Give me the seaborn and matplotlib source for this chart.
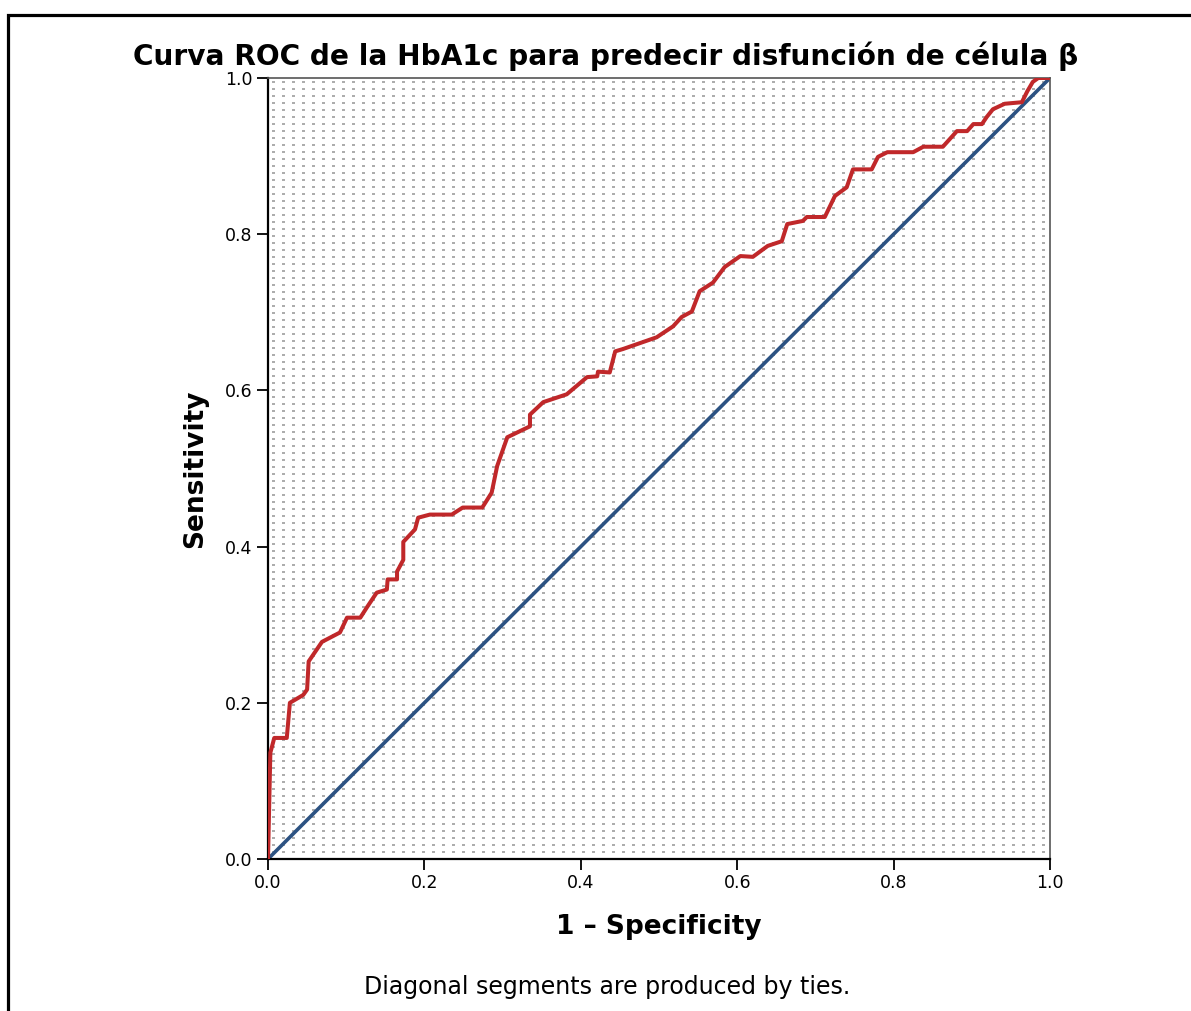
import numpy as np
import pandas as pd
import matplotlib
matplotlib.use('Agg')
import matplotlib.pyplot as plt
import matplotlib.patches as mpatches
import seaborn as sns

# ROC curve points (1 - specificity, sensitivity)
fpr = [0.000, 0.003, 0.008, 0.024, 0.028, 0.045, 0.050, 0.052, 0.069, 0.092,
       0.101, 0.118, 0.127, 0.139, 0.152, 0.153, 0.165, 0.165, 0.173, 0.173,
       0.188, 0.192, 0.207, 0.235, 0.249, 0.274, 0.286, 0.293, 0.306, 0.335,
       0.335, 0.352, 0.382, 0.408, 0.421, 0.422, 0.437, 0.444, 0.454, 0.497,
       0.518, 0.529, 0.542, 0.552, 0.569, 0.584, 0.604, 0.620, 0.639, 0.657,
       0.664, 0.684, 0.689, 0.712, 0.725, 0.740, 0.748, 0.772, 0.780, 0.792,
       0.825, 0.838, 0.863, 0.881, 0.894, 0.902, 0.913, 0.919, 0.927, 0.942,
       0.964, 0.971, 0.978, 0.985, 1.000]
tpr = [0.000, 0.136, 0.155, 0.155, 0.200, 0.210, 0.217, 0.253, 0.278, 0.290,
       0.309, 0.309, 0.323, 0.341, 0.345, 0.358, 0.358, 0.368, 0.383, 0.406,
       0.422, 0.437, 0.441, 0.441, 0.450, 0.450, 0.469, 0.503, 0.540, 0.554,
       0.569, 0.585, 0.595, 0.617, 0.618, 0.624, 0.623, 0.650, 0.653, 0.668,
       0.682, 0.694, 0.701, 0.727, 0.738, 0.758, 0.772, 0.771, 0.785, 0.791,
       0.813, 0.817, 0.822, 0.822, 0.849, 0.860, 0.883, 0.883, 0.899, 0.905,
       0.905, 0.912, 0.912, 0.932, 0.932, 0.941, 0.941, 0.950, 0.960, 0.967,
       0.969, 0.983, 0.995, 1.000, 1.000]
ref_x = [0.0, 1.0]
ref_y = [0.0, 1.0]
ticks = [0.0, 0.2, 0.4, 0.6, 0.8, 1.0]

sns.set_style('white')
plt.rcParams['font.family'] = ['DejaVu Sans']
plt.rcParams['text.color'] = 'black'
plt.rcParams['axes.labelcolor'] = 'black'

W, H = 1191, 1011
fig = plt.figure(figsize=(W / 100, H / 100), dpi=100)
ax = fig.add_axes([268 / W, 1 - 859 / H, 782 / W, 781 / H])

# dotted background texture (small grey dashes)
tw, th = 782, 781
tex = np.ones((th, tw, 3))
for r in range(3, th, 7):
    for c in range(4, tw - 2, 10):
        tex[r:r + 2, c:c + 3] = 0.68
ax.imshow(tex, extent=(0, 1, 0, 1), aspect='auto', interpolation='nearest', zorder=0)

sns.lineplot(x=ref_x, y=ref_y, ax=ax, color='#2c5282', lw=2.6, estimator=None, sort=False, zorder=2)
sns.lineplot(x=fpr, y=tpr, ax=ax, color='#c0282a', lw=2.9, estimator=None, sort=False, zorder=3)

ax.set_xlim(0, 1)
ax.set_ylim(0, 1)
ax.set_xticks(ticks)
ax.set_yticks(ticks)
ax.set_xticklabels([f'{t:.1f}' for t in ticks])
ax.set_yticklabels([f'{t:.1f}' for t in ticks])
ax.tick_params(direction='out', length=8, width=1.3, labelsize=12.5, colors='black',
               bottom=True, left=True, pad=3)
for side in ['left', 'bottom']:
    ax.spines[side].set_color('black')
    ax.spines[side].set_linewidth(1.6)
for side in ['top', 'right']:
    ax.spines[side].set_color('#555555')
    ax.spines[side].set_linewidth(1.2)

ax.set_xlabel('1 \u2013 Specificity', fontsize=19, fontweight='bold', labelpad=16)
ax.set_ylabel('Sensitivity', fontsize=19, fontweight='bold', labelpad=12)

fig.text(606 / W, 1 - 56 / H, 'Curva ROC de la HbA1c para predecir disfunción de célula β',
         ha='center', va='center', fontsize=20.2, fontweight='bold')
fig.text(607 / W, 1 - 987 / H, 'Diagonal segments are produced by ties.',
         ha='center', va='center', fontsize=17)

# outer frame (top and left edges visible)
frame = mpatches.Rectangle((7.5 / W, -0.2), 1.2, 1.2 - 15 / H, transform=fig.transFigure,
                           fill=False, edgecolor='black', lw=2.3, clip_on=False)
fig.add_artist(frame)

fig.savefig('out.png', dpi=100)
